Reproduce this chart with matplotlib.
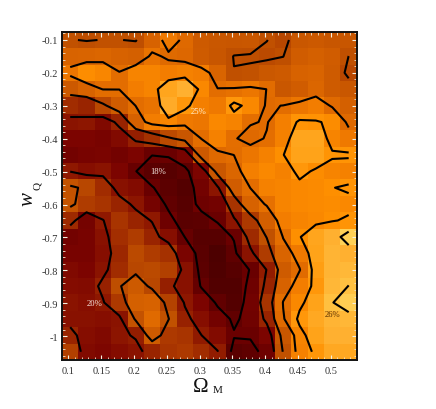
import numpy as np
import matplotlib
matplotlib.use("Agg")
import matplotlib.pyplot as plt
from matplotlib.colors import LinearSegmentedColormap

W, H = 436, 410

# percent-like values, rows run from w=-0.1 down to w=-1.05; columns from Omega_M=0.1 upward
row_00 = [22.09,21.9,22.05,22.03,21.9,23.4,24.4,23.82,22.8,22.6,22.5,22.6,22.02,21.7,22.55,22.7,22.5,22.5]
row_01 = [23.44,23.5,23.6,23.4,23.2,24.2,23.85,23.7,22.9,22.5,21.97,21.9,21.8,21.98,23,23.2,23,21.99]
row_02 = [24.3,24.93,24.74,24.04,24.71,24.7,24.5,24.6,24.5,23.5,22.02,22.14,22.65,22.8,23.4,23.5,22.9,21.7]
row_03 = [22.7,23.44,24.03,24.02,24.5,24.68,25.6,26,24.77,24.03,24.15,24.3,23.99,22.6,23,23.6,22.9,22.6]
row_04 = [20.7,20.38,21.72,23,24.02,24.2,25.8,25.2,24.55,24.4,25.2,24.78,23.9,24.02,24.3,24.5,23.9,23.2]
row_05 = [19.69,19.83,19.23,20.33,23.3,24.5,24.73,24.4,24.3,24.8,24.67,24.05,23.95,24.55,25.1,25.05,24.9,23.8]
row_06 = [19,19,18.8,19.27,20.2,20.9,21.8,22.5,24.03,24.6,24.05,23.8,24.05,24.6,25.6,25.6,24.7,24.4]
row_07 = [18.6,18.8,18.9,18.6,19,18.02,18.1,18.8,22.7,23.8,24.01,24.3,24.6,24.98,25.5,25.5,25.1,25.1]
row_08 = [19.95,19.5,19.7,19,18.02,17.5,17.4,17.7,19,22.6,23.6,24.57,24.8,24.6,25.2,24.9,24.7,24.6]
row_09 = [22.28,21.7,20.7,19.6,19.3,18.05,17.6,17.3,18.6,19.8,23,24.02,24.6,24.7,24.8,24.85,24.98,25.1]
row_10 = [22.3,21.3,21,20.4,19.8,18.7,17.8,17.4,18.3,18.6,21,23.4,24.1,24.7,24.8,24.85,24.9,24.8]
row_11 = [20.6,18.7,19.95,21,20.4,19.95,18.3,17.5,17.6,18.1,19.8,21.2,23.17,24.5,24.7,24.8,24.95,25.1]
row_12 = [18.6,18.8,19.6,20.8,21.3,20.4,19.5,17.98,17.4,17.4,18.1,20.6,22.05,24.05,24.95,25.6,26,27.6]
row_13 = [18.8,18.8,19.5,20.5,21.8,21.3,20.9,18.9,17.5,17,17.7,19.7,21.3,23.5,24.4,25.5,26.2,26]
row_14 = [19.2,19,19.7,20.7,21.7,21.8,21.4,19.6,17.6,17.1,17.4,18.05,20.05,22.9,23.95,25.35,26.2,26.4]
row_15 = [19.4,19.3,20.3,21.9,22.8,21.7,20.2,19.6,17.9,17.2,17.2,18.3,20.4,23.4,24.5,25.2,26.3,26.82]
row_16 = [19.7,19.5,19.9,21.2,23.2,23.4,21.5,19.9,19,17.8,17.3,18.5,21,24.05,24.8,25.5,26.75,27.5]
row_17 = [19.6,19.6,19.5,19.7,22.2,23.9,22.05,20.3,19.5,18.6,17.8,18.4,20.4,23.9,25.2,25.7,26.2,26.3]
row_18 = [20.4,19.42,19.2,19.8,20.1,22.9,21.2,21,20.02,19.3,18.1,18.1,19,22.6,24.7,25.5,26,26]
row_19 = [21.4,19.25,19.1,19.4,19.7,20.4,21,21.2,20.7,20.05,17.5,17.7,18.3,22.1,24.6,25.13,25.7,25.7]

contour_levels = [18, 20, 22, 24, 25, 26.8]
x_ticks = [0.1, 0.15, 0.2, 0.25, 0.3, 0.35, 0.4, 0.45, 0.5]
x_tick_labels = ["0.1", "0.15", "0.2", "0.25", "0.3", "0.35", "0.4", "0.45", "0.5"]
y_ticks = [-0.1, -0.2, -0.3, -0.4, -0.5, -0.6, -0.7, -0.8, -0.9, -1.0]
y_tick_labels = ["-0.1", "-0.2", "-0.3", "-0.4", "-0.5", "-0.6", "-0.7", "-0.8", "-0.9", "-1"]

grid = np.array([row_00,row_01,row_02,row_03,row_04,row_05,row_06,row_07,row_08,row_09,
                 row_10,row_11,row_12,row_13,row_14,row_15,row_16,row_17,row_18,row_19])
x = np.linspace(0.1026, 0.5273, grid.shape[1])
y = np.linspace(-0.1, -1.0476, grid.shape[0])

anchors = [(16.5,"#400000"),(17.5,"#5a0000"),(18,"#680000"),(19,"#7c0400"),(20,"#901a00"),
           (21,"#a83400"),(22,"#c05000"),(23,"#d05c00"),(24,"#e26c00"),(24.5,"#f27c00"),
           (25,"#ff9000"),(25.5,"#ffa218"),(26,"#ffb030"),(26.8,"#ffc040"),(28,"#ffd860")]
vmin, vmax = anchors[0][0], anchors[-1][0]
cmap = LinearSegmentedColormap.from_list(
    "heat", [((v - vmin) / (vmax - vmin), c) for v, c in anchors])

plt.rcParams["font.family"] = ["Liberation Serif", "DejaVu Serif"]
fig = plt.figure(figsize=(W / 100, H / 100), dpi=100)
ax = fig.add_axes([62 / W, (H - 361) / H, 295 / W, 328 / H])
ax.pcolormesh(x, y, grid, cmap=cmap, vmin=vmin, vmax=vmax, shading="nearest",
              antialiased=False, linewidth=0, rasterized=True)
ax.contour(x, y, grid, levels=contour_levels, colors="black", linewidths=1.5,
           linestyles="solid", antialiased=True)
ax.set_xlim(0.0901, 0.5398)
ax.set_ylim(-1.0726, -0.0757)

ax.set_xticks(x_ticks)
ax.set_xticklabels(x_tick_labels)
ax.set_yticks(y_ticks)
ax.set_yticklabels(y_tick_labels)
ax.set_xticks(np.arange(0.10, 0.54, 0.01), minor=True)
ax.set_yticks(np.arange(-1.06, -0.08, 0.02), minor=True)
ax.tick_params(which="major", direction="in", length=3.5, width=0.8, color="#f4f0e0",
               top=True, right=True, labelsize=7.5, labelcolor="#333333", pad=3)
ax.tick_params(axis="x", which="major", pad=4.5)
ax.tick_params(which="minor", direction="in", length=2, width=0.6, color="#f4e8d0",
               top=True, right=True)
for s in ax.spines.values():
    s.set_linewidth(1.4)
    s.set_color("#111111")

def px(xp, yp):
    return xp / W, 1 - yp / H

for txt, xp, yp, col in [("18%", 158, 172, "#f2e8e0"), ("25%", 199, 112, "#fff0d8"),
                         ("20%", 95, 304, "#f8e8e0"), ("26%", 332, 315, "#5a3000")]:
    fig.text(*px(xp, yp), txt, color=col, fontsize=6.2, ha="center", va="center")

fig.text(*px(201, 388), "\u03a9", fontsize=15, ha="center", va="center", color="#111111")
fig.text(*px(218, 391), "M", fontsize=8, ha="center", va="center", color="#111111")
fig.text(*px(28, 199), "w", fontsize=15, style="italic", rotation=90, ha="center", va="center", color="#111111")
fig.text(*px(37, 186), "Q", fontsize=8, rotation=90, ha="center", va="center", color="#111111")

fig.savefig("out.png", dpi=100)
